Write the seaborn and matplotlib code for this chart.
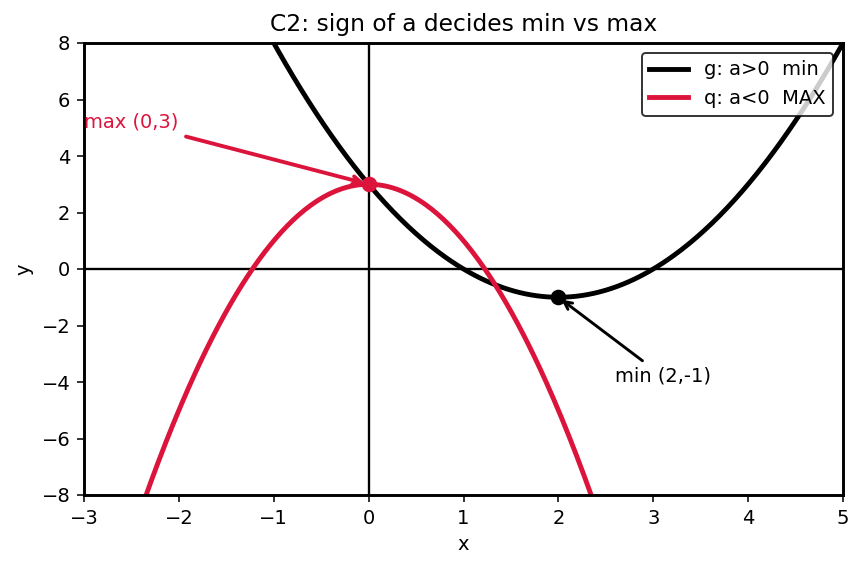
import numpy as np
import pandas as pd
import matplotlib
matplotlib.use("Agg")
import matplotlib.pyplot as plt
import seaborn as sns

# Data: quadratic coefficients (a, b, c) for each curve
labels = ["g: a>0  min", "q: a<0  MAX"]
coef_a = [1.0, -2.0]
coef_b = [-4.0, 0.0]
coef_c = [3.0, 3.0]
colors = ["black", "crimson"]
x_min, x_max = -3.0, 5.0
vertex_x = [2.0, 0.0]
vertex_y = [-1.0, 3.0]
ann_text = ["min (2,-1)", "max (0,3)"]
ann_xytext = [(2.6, -4.0), (-3.0, 5.0)]

xs = np.linspace(x_min, x_max, 400)
frames = []
for lab, a, b, c in zip(labels, coef_a, coef_b, coef_c):
    frames.append(pd.DataFrame({"x": xs, "y": a * xs**2 + b * xs + c, "curve": lab}))
df = pd.concat(frames, ignore_index=True)

DPI = 140
fig = plt.figure(figsize=(862 / DPI, 569 / DPI), dpi=DPI)
ax = fig.add_axes([84 / 862, 1 - 495 / 569, (843 - 84) / 862, (495 - 43) / 569])

ax.axhline(0, color="black", lw=1.2, zorder=1)
ax.axvline(0, color="black", lw=1.2, zorder=1)

sns.lineplot(data=df, x="x", y="y", hue="curve", palette=dict(zip(labels, colors)),
             lw=2.5, ax=ax, zorder=2, sort=False)

for vx, vy, col in zip(vertex_x, vertex_y, colors):
    ax.plot([vx], [vy], "o", color=col, ms=7, zorder=4)

ax.annotate(ann_text[0], xy=(vertex_x[0], vertex_y[0]), xytext=ann_xytext[0],
            color="black", fontsize=10,
            arrowprops=dict(arrowstyle="->", color="black", lw=1.5))
ax.annotate(ann_text[1], xy=(vertex_x[1], vertex_y[1]), xytext=ann_xytext[1],
            color="crimson", fontsize=10,
            arrowprops=dict(arrowstyle="->", color="crimson", lw=2))

ax.set_xlim(x_min, x_max)
ax.set_ylim(-8, 8)
ax.set_title("C2: sign of a decides min vs max", fontsize=12)
ax.set_xlabel("x")
ax.set_ylabel("y")
for s in ax.spines.values():
    s.set_linewidth(1.5)

leg = ax.legend(loc="upper right", fontsize=10, title=None)
leg.get_frame().set_edgecolor("black")
for line in leg.get_lines():
    line.set_linewidth(2.5)

fig.savefig("out.png", dpi=DPI)
